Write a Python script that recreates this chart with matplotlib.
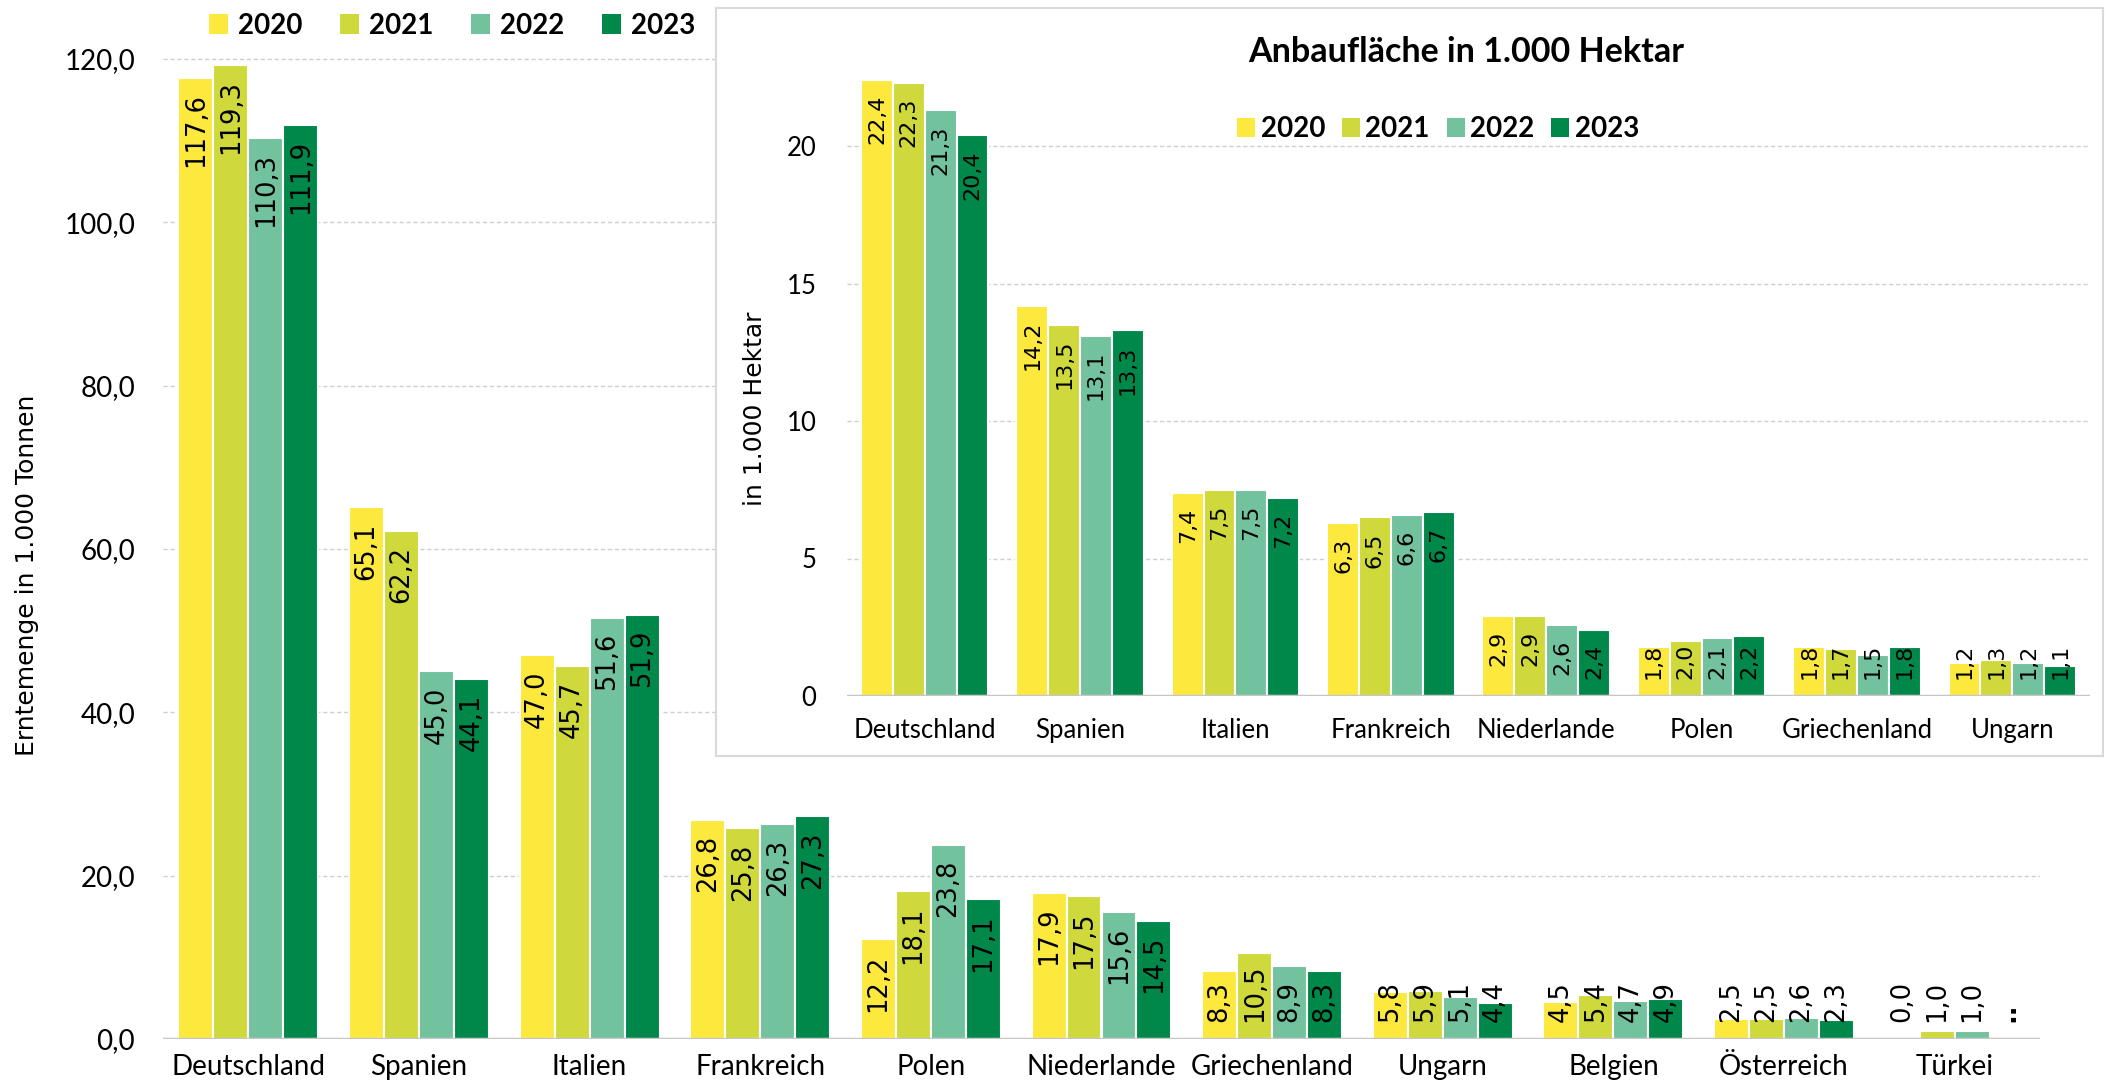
"""
Spargel: Erntemenge und Anbauflaeche nach Laendern, 2020-2023.

Hauptdiagramm mit Erntemenge, eingesetztes Diagramm mit Anbauflaeche.
"""

import matplotlib
matplotlib.use("Agg")
import matplotlib.pyplot as plt
import numpy as np
from matplotlib.patches import Patch
from matplotlib.transforms import offset_copy

W, H = 2107, 1086
DPI = 100

YEARS = ["2020", "2021", "2022", "2023"]
YEAR_COLORS = ["#FDE93E", "#CFD93B", "#72C29E", "#00884A"]

# Erntemenge in 1.000 Tonnen
HARVEST_COUNTRIES = [
    "Deutschland", "Spanien", "Italien", "Frankreich", "Polen", "Niederlande",
    "Griechenland", "Ungarn", "Belgien", "Österreich", "Türkei",
]
HARVEST_2020 = [117.6, 65.1, 47.0, 26.8, 12.2, 17.9, 8.3, 5.8, 4.5, 2.5, 0.0]
HARVEST_2021 = [119.3, 62.2, 45.7, 25.8, 18.1, 17.5, 10.5, 5.9, 5.4, 2.5, 1.0]
HARVEST_2022 = [110.3, 45.0, 51.6, 26.3, 23.8, 15.6, 8.9, 5.1, 4.7, 2.6, 1.0]
HARVEST_2023 = [111.9, 44.1, 51.9, 27.3, 17.1, 14.5, 8.3, 4.4, 4.9, 2.3, None]  # Türkei: ".."

# Anbaufläche in 1.000 Hektar
AREA_COUNTRIES = [
    "Deutschland", "Spanien", "Italien", "Frankreich", "Niederlande",
    "Polen", "Griechenland", "Ungarn",
]
AREA_2020 = [22.4, 14.2, 7.4, 6.3, 2.9, 1.8, 1.8, 1.2]
AREA_2021 = [22.3, 13.5, 7.5, 6.5, 2.9, 2.0, 1.7, 1.3]
AREA_2022 = [21.3, 13.1, 7.5, 6.6, 2.6, 2.1, 1.5, 1.2]
AREA_2023 = [20.4, 13.3, 7.2, 6.7, 2.4, 2.2, 1.8, 1.1]

MAIN_YTICKS = [0, 20, 40, 60, 80, 100, 120]
AREA_YTICKS = [0, 5, 10, 15, 20]

TICK_FONT = "Lato"
LABEL_FONT = "DejaVu Sans"


def px_rect(x0, y0, x1, y1):
    """Pixel box (top-left origin) -> figure fraction rect."""
    return [x0 / W, 1 - y1 / H, (x1 - x0) / W, (y1 - y0) / H]


def fmt(v):
    return f"{v:.1f}".replace(".", ",")


def draw_bars(ax, fig, series, n_cat, label_size, pad_top, pad_bottom):
    x = np.arange(n_cat)
    width = 0.205
    texts = []
    for i, vals in enumerate(series):
        offset = (i - 1.5) * width
        heights = [v if v is not None else 0 for v in vals]
        ax.bar(x + offset, heights, width, color=YEAR_COLORS[i],
               edgecolor="white", linewidth=1.5, zorder=3)
        for xi, v in zip(x + offset, vals):
            if v is None:
                ax.text(xi, 0, "..", rotation=90, ha="center", va="bottom",
                        fontsize=label_size, family=LABEL_FONT, fontweight="bold", zorder=5,
                        transform=offset_copy(ax.transData, fig=fig, y=pad_bottom, units="dots"))
                continue
            t = ax.text(xi, v, fmt(v), rotation=90, ha="center", va="top",
                        fontsize=label_size, family=LABEL_FONT, zorder=5,
                        transform=offset_copy(ax.transData, fig=fig, y=-pad_top, units="dots"))
            texts.append(t)
    return texts


def fix_labels(ax, fig, texts, pad_bottom):
    # labels that would run past the baseline sit on it instead
    fig.canvas.draw()
    renderer = fig.canvas.get_renderer()
    base = ax.transData.transform((0, 0))[1]
    for t in texts:
        bb = t.get_window_extent(renderer)
        if bb.y0 < base + pad_bottom:
            t.set_y(0)
            t.set_va("bottom")
            t.set_transform(offset_copy(ax.transData, fig=fig, y=pad_bottom, units="dots"))


def style_axes(ax, n_cat, ylim, yticks, ylabels, tick_size, ypad, xpad):
    ax.set_xlim(-0.5, n_cat - 0.5)
    ax.set_ylim(*ylim)
    ax.set_yticks(yticks)
    ax.set_yticklabels(ylabels, family=TICK_FONT, fontsize=tick_size)
    ax.tick_params(axis="both", length=0)
    ax.tick_params(axis="y", pad=ypad)
    ax.tick_params(axis="x", pad=xpad)
    for s in ax.spines.values():
        s.set_visible(False)
    ax.grid(axis="y", color="#cfcfcf", linestyle=(0, (3, 2)), linewidth=1.0, zorder=0)
    ax.set_axisbelow(True)
    ax.axhline(0, color="#c6c6c6", linewidth=2.5, zorder=4)


def main():
    fig = plt.figure(figsize=(W / DPI, H / DPI), dpi=DPI)

    # --- main chart: Erntemenge
    ax = fig.add_axes(px_rect(163, 18, 2040, 1039))
    harvest = [HARVEST_2020, HARVEST_2021, HARVEST_2022, HARVEST_2023]
    n_main = len(HARVEST_COUNTRIES)
    main_texts = draw_bars(ax, fig, harvest, n_main, 18.5, 15, 17)
    style_axes(ax, n_main, (0, 125), MAIN_YTICKS, [fmt(v) for v in MAIN_YTICKS], 20, 20, 11)
    ax.set_xticks(np.arange(n_main))
    ax.set_xticklabels(HARVEST_COUNTRIES, family=TICK_FONT, fontsize=20)
    ax.patch.set_alpha(0)

    fig.text(27 / W, 1 - 575 / H, "Erntemenge in 1.000 Tonnen", rotation=90,
             ha="center", va="center", fontsize=18, family=LABEL_FONT)

    handles = [Patch(facecolor=c, edgecolor="none") for c in YEAR_COLORS]
    fig.legend(handles, YEARS, loc="center", bbox_to_anchor=(452 / W, 1 - 26 / H),
               ncol=4, frameon=False, prop={"family": TICK_FONT, "weight": "bold", "size": 20},
               handlelength=0.7, handleheight=0.72, handletextpad=0.35, columnspacing=1.35,
               borderpad=0, borderaxespad=0)

    # --- inset frame
    frame = fig.add_axes(px_rect(716, 8, 2103, 756))
    frame.set_facecolor("white")
    frame.set_xticks([])
    frame.set_yticks([])
    for s in frame.spines.values():
        s.set_color("#d9d9d9")
        s.set_linewidth(1.5)

    # --- inset chart: Anbaufläche
    ax2 = fig.add_axes(px_rect(847, 36, 2090, 696))
    area = [AREA_2020, AREA_2021, AREA_2022, AREA_2023]
    n_area = len(AREA_COUNTRIES)
    area_texts = draw_bars(ax2, fig, area, n_area, 16, 15, 17)
    style_axes(ax2, n_area, (0, 24), AREA_YTICKS, [str(v) for v in AREA_YTICKS], 18.5, 22, 16)
    ax2.set_xticks(np.arange(n_area))
    ax2.set_xticklabels(AREA_COUNTRIES, family=TICK_FONT, fontsize=18.5)
    ax2.patch.set_alpha(0)

    fig.text(755 / W, 1 - 409 / H, "in 1.000 Hektar", rotation=90,
             ha="center", va="center", fontsize=18, family=LABEL_FONT)
    fig.text(1466 / W, 1 - 52 / H, "Anbaufläche in 1.000 Hektar", ha="center", va="center",
             fontsize=24.5, family=TICK_FONT, fontweight="bold")
    fig.legend(handles, YEARS, loc="center", bbox_to_anchor=(1438 / W, 1 - 129 / H),
               ncol=4, frameon=False, prop={"family": TICK_FONT, "weight": "bold", "size": 20},
               handlelength=0.65, handleheight=0.68, handletextpad=0.2, columnspacing=0.6,
               borderpad=0, borderaxespad=0)

    fix_labels(ax, fig, main_texts, 17)
    fix_labels(ax2, fig, area_texts, 17)

    fig.savefig("out.png", dpi=DPI)
    plt.close(fig)


if __name__ == "__main__":
    main()
